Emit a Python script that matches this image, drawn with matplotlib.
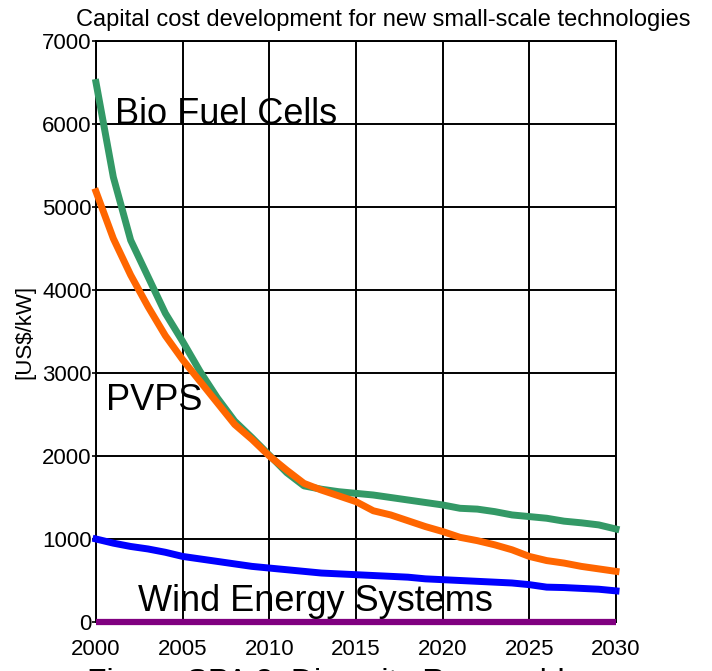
import numpy as np
from matplotlib import pyplot as plt

plt.rcParams['font.family'] = ['Liberation Sans', 'DejaVu Sans']

# Anos e custos de capital (US$/kW)
anos = np.arange(2000, 2031)
bio_fuel_cells = [6500, 5360, 4600, 4160, 3720, 3380, 3020, 2700, 2420, 2220,
                  2010, 1800, 1640, 1600, 1570, 1550, 1530, 1500, 1470, 1440,
                  1410, 1370, 1360, 1330, 1290, 1270, 1250, 1215, 1195, 1170, 1120]
pvps = [5185, 4620, 4180, 3800, 3450, 3160, 2900, 2640, 2380, 2200,
        2000, 1830, 1670, 1590, 1520, 1450, 1340, 1290, 1220, 1150,
        1090, 1020, 980, 930, 870, 790, 740, 710, 670, 640, 610]
wind = [1000, 950, 910, 880, 840, 790, 760, 730, 700, 670,
        650, 630, 610, 590, 580, 570, 560, 550, 540, 520,
        510, 500, 490, 480, 470, 450, 420, 415, 405, 395, 375]
base = [0] * len(anos)

W, H = 712, 671
fig = plt.figure(figsize=(W / 100, H / 100), dpi=100)
ax = fig.add_axes([96 / W, 1 - 622 / H, 520 / W, 581 / H])

ax.plot(anos, base, color='#800080', lw=4.5, solid_capstyle='butt', zorder=3, clip_on=False)
ax.plot(anos, wind, color='#0000FF', lw=5, zorder=4, clip_on=False)
ax.plot(anos, pvps, color='#FF6600', lw=5, zorder=5, clip_on=False)
ax.plot(anos, bio_fuel_cells, color='#339966', lw=5, zorder=4, clip_on=False)

ax.set_xlim(2000, 2030)
ax.set_ylim(0, 7000)
ax.set_xticks(range(2000, 2031, 5))
ax.set_yticks(range(0, 7001, 1000))
ax.grid(True, color='black', lw=1.4)
for s in ax.spines.values():
    s.set_color('black')
    s.set_linewidth(1.4)
ax.tick_params(axis='y', length=3, width=1.2, pad=0, labelsize=16)
ax.tick_params(axis='x', length=0, pad=12, labelsize=16)
ax.set_ylabel('[US$/kW]', fontsize=16, labelpad=5)

ax.text(2001.1, 6000, 'Bio Fuel Cells', fontsize=26, va='baseline', zorder=6)
ax.text(2000.6, 2550, 'PVPS', fontsize=26, va='baseline', zorder=6)
ax.text(2002.4, 130, 'Wind Energy Systems', fontsize=26, va='baseline', zorder=6)

fig.text(383 / W, 1 - 20 / H, 'Capital cost development for new small-scale technologies',
         fontsize=17, ha='center', va='center')
fig.text(87 / W, 1 - 691 / H, 'Figure SPA 2: Diversity Renewables', fontsize=23,
         ha='left', va='baseline')

fig.savefig('out.png', dpi=100)
